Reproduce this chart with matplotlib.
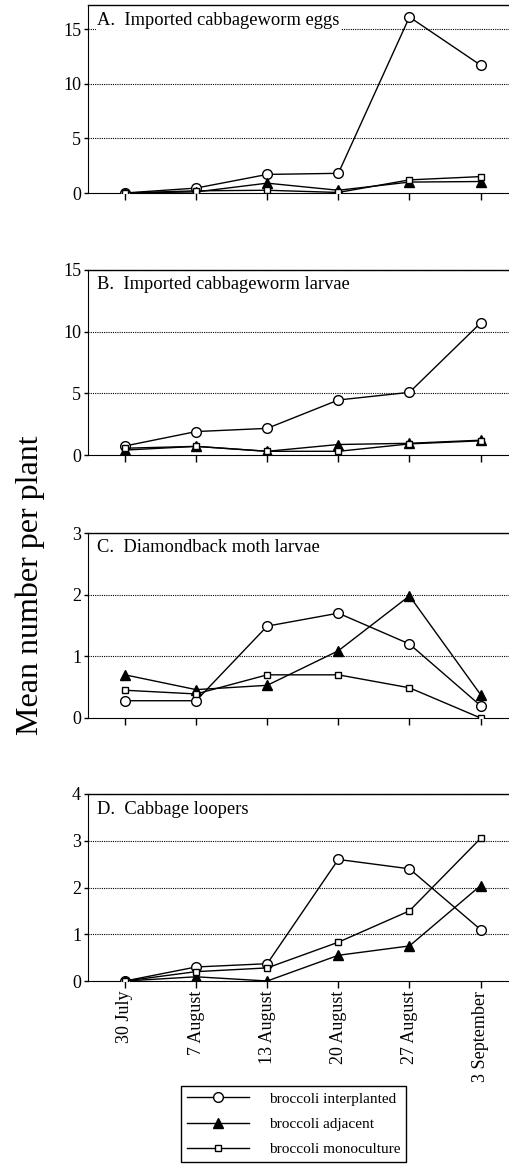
import matplotlib
matplotlib.use("Agg")
from matplotlib import pyplot as plt

plt.rcParams['font.family'] = ['Liberation Serif', 'DejaVu Serif']

# sampling dates
dates = ['30 July', '7 August', '13 August', '20 August', '27 August', '3 September']

# A. Imported cabbageworm eggs
eggs_inter = [0.0, 0.45, 1.7, 1.8, 16.1, 11.7]
eggs_adj = [0.0, 0.1, 0.9, 0.25, 1.0, 1.05]
eggs_mono = [0.0, 0.2, 0.25, 0.05, 1.2, 1.5]

# B. Imported cabbageworm larvae
larv_inter = [0.73, 1.9, 2.16, 4.46, 5.08, 10.7]
larv_adj = [0.4, 0.7, 0.3, 0.85, 0.95, 1.2]
larv_mono = [0.55, 0.7, 0.3, 0.3, 0.9, 1.15]

# C. Diamondback moth larvae
dbm_inter = [0.28, 0.28, 1.49, 1.70, 1.2, 0.2]
dbm_adj = [0.70, 0.46, 0.53, 1.09, 1.98, 0.38]
dbm_mono = [0.45, 0.39, 0.70, 0.70, 0.49, 0.0]

# D. Cabbage loopers
loop_inter = [0.0, 0.3, 0.37, 2.6, 2.4, 1.1]
loop_adj = [0.0, 0.09, 0.0, 0.55, 0.75, 2.04]
loop_mono = [0.0, 0.2, 0.28, 0.83, 1.5, 3.05]

panels = [
    ('A.  Imported cabbageworm eggs', eggs_inter, eggs_adj, eggs_mono, 17.2, [0, 5, 10, 15]),
    ('B.  Imported cabbageworm larvae', larv_inter, larv_adj, larv_mono, 15, [0, 5, 10, 15]),
    ('C.  Diamondback moth larvae', dbm_inter, dbm_adj, dbm_mono, 3, [0, 1, 2, 3]),
    ('D.  Cabbage loopers', loop_inter, loop_adj, loop_mono, 4, [0, 1, 2, 3, 4]),
]

# axes boxes in pixels (top, bottom)
boxes = [(5, 193), (270, 455), (533, 718), (794, 981)]

W, H = 509, 1165
fig = plt.figure(figsize=(W / 100, H / 100), dpi=100)

x = list(range(len(dates)))
handles = None
for (title, s_i, s_a, s_m, ymax, yt), (top, bot) in zip(panels, boxes):
    ax = fig.add_axes([88 / W, 1 - bot / H, 421 / W, (bot - top) / H])
    ax.set_xlim(-0.52, 5.4)
    ax.set_ylim(0, ymax)
    ax.set_yticks(yt)
    ax.set_xticks(x)
    for v in yt[1:]:
        ax.axhline(v, color='black', lw=0.8, ls=(0, (1, 1)), zorder=1)
    h1, = ax.plot(x, s_i, color='black', lw=1, marker='o', ms=7,
                  mfc='white', mec='black', mew=1, zorder=3)
    h2, = ax.plot(x, s_a, color='black', lw=1, marker='^', ms=6.5,
                  mfc='black', mec='black', zorder=4)
    h3, = ax.plot(x, s_m, color='black', lw=1, marker='s', ms=4.5,
                  mfc='white', mec='black', mew=1, zorder=5)
    handles = [h1, h2, h3]
    ax.text(0.022, 0.965, title, transform=ax.transAxes, ha='left', va='top',
            fontsize=13.3, bbox=dict(facecolor='white', edgecolor='none', pad=1))
    ax.spines['right'].set_visible(False)
    ax.spines['top'].set_linewidth(1)
    ax.tick_params(direction='out', length=5, width=1, labelsize=13, pad=2)
    ax.tick_params(axis='y', length=3)
    if title.startswith('D'):
        ax.set_xticklabels(dates, rotation=90, fontsize=13)
    else:
        ax.set_xticklabels([])

fig.text(30 / W, 1 - 585 / H, 'Mean number per plant', rotation=90,
         ha='center', va='center', fontsize=23)

fig.legend(handles, ['broccoli interplanted', 'broccoli adjacent', 'broccoli monoculture'],
           loc='upper left', bbox_to_anchor=(181 / W, 1 - 1086 / H),
           fancybox=False, edgecolor='black', framealpha=1, fontsize=11,
           handlelength=4.05, borderpad=0.4, labelspacing=0.75,
           handletextpad=1.3, borderaxespad=0)

fig.savefig('out.png', dpi=100)
